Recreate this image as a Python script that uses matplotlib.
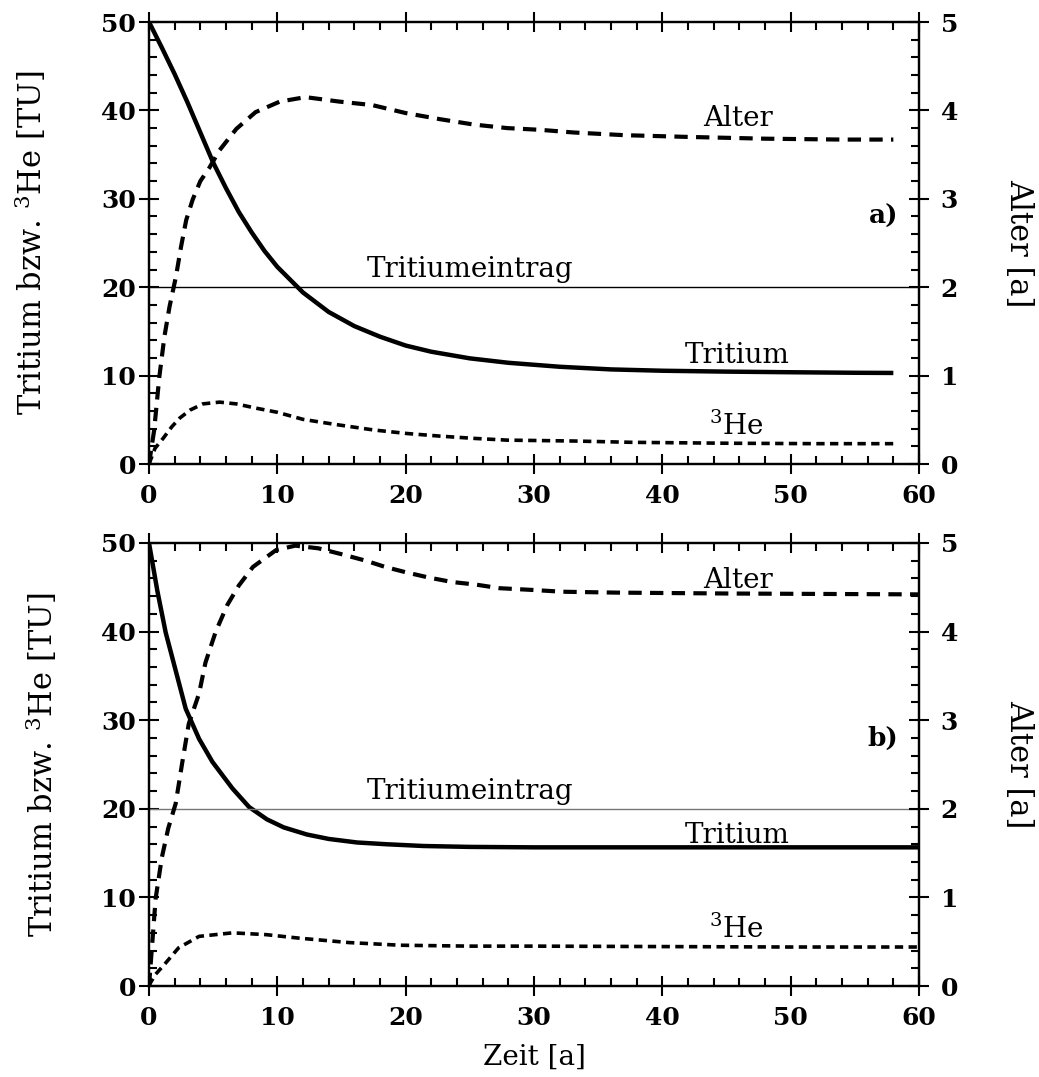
import numpy as np
import matplotlib
matplotlib.use("Agg")
import matplotlib.pyplot as plt
from matplotlib.ticker import MultipleLocator

plt.rcParams["font.family"] = ["DejaVu Serif"]
plt.rcParams["mathtext.fontset"] = "dejavuserif"

# ---------------------------------------------------------------
# data
# panel a)
t_trit_a = [0, 1, 2, 3, 4, 5, 6, 7, 8, 9, 10, 12, 14, 16, 18, 20, 22, 25, 28,
            32, 36, 40, 45, 50, 55, 58]
trit_a = [50, 47.1, 44.1, 40.9, 37.5, 34.1, 31.2, 28.5, 26.2, 24.1, 22.3, 19.4,
          17.2, 15.6, 14.4, 13.4, 12.7, 11.95, 11.45, 11.0, 10.7, 10.55, 10.45,
          10.38, 10.32, 10.3]
t_alter_a = [0, 0.4, 0.8, 1.2, 1.6, 2.1, 2.5, 2.9, 3.4, 4.0, 4.7, 5.5, 6.8, 8.3,
             10.2, 12.2, 14.8, 17.4, 20.0, 22.7, 25.3, 27.9, 30.5, 33.1, 37,
             42, 48, 54, 58]
alter_a = [0, 0.38, 0.98, 1.44, 1.78, 2.12, 2.46, 2.76, 2.99, 3.2, 3.35, 3.55,
           3.79, 3.98, 4.10, 4.15, 4.10, 4.06, 3.97, 3.90, 3.84, 3.80, 3.78,
           3.75, 3.72, 3.70, 3.68, 3.67, 3.67]
t_he_a = [0, 0.47, 1.1, 1.77, 2.4, 3.2, 4.2, 5.5, 6.8, 8.4, 10, 12, 14.4, 17.5,
          20.1, 22.7, 25.3, 27.9, 30.5, 33.1, 37.7, 45, 52, 58]
he_a = [0, 1.78, 2.9, 4.2, 5.2, 6.1, 6.8, 7.0, 6.8, 6.3, 5.85, 5.05, 4.5, 3.85,
        3.45, 3.15, 2.9, 2.7, 2.65, 2.6, 2.45, 2.35, 2.3, 2.3]

# panel b)
t_trit_b = [0, 0.65, 1.3, 2.08, 2.86, 3.9, 4.94, 6.5, 7.8, 9.2, 10.5, 12.3, 14,
            16.2, 18.5, 21.4, 25, 30, 40, 50, 60]
trit_b = [50, 44.6, 39.9, 35.6, 31.3, 27.9, 25.3, 22.3, 20.2, 18.8, 17.9, 17.1,
          16.6, 16.2, 16.0, 15.8, 15.7, 15.65, 15.65, 15.65, 15.65]
t_alter_b = [0, 0.52, 1.0, 1.5, 2.08, 2.6, 3.1, 3.9, 4.4, 5.2, 6.1, 7.0, 8.1,
             9.9, 11.4, 13.2, 15.1, 16.9, 18.4, 20, 21.8, 23.6, 25.5, 27.3,
             29.9, 32.2, 36.4, 45, 60]
alter_b = [0, 0.99, 1.45, 1.78, 2.06, 2.53, 2.96, 3.3, 3.65, 4.0, 4.3, 4.52,
           4.73, 4.92, 4.97, 4.94, 4.87, 4.8, 4.73, 4.67, 4.61, 4.56, 4.53,
           4.49, 4.47, 4.45, 4.44, 4.43, 4.42]
t_he_b = [0, 0.13, 0.5, 1.3, 2.3, 3.9, 6.5, 9.1, 11.7, 15.6, 19.6, 25, 30, 40,
          50, 60]
he_b = [0, 0.4, 1.3, 2.6, 4.3, 5.6, 6.0, 5.8, 5.4, 4.9, 4.6, 4.5, 4.5, 4.45,
        4.4, 4.4]

eintrag = 20   # Tritiumeintrag [TU]

ylabel_left = r"Tritium bzw. $^3$He [TU]"
ylabel_right = "Alter [a]"
xlabel = "Zeit [a]"

# label baselines (TU) per panel: Alter, Tritium, 3He
lab_a = [38.2, 11.4, 3.3]
lab_b = [44.9, 16.1, 5.4]

W, H = 1039, 1077
fig = plt.figure(figsize=(W / 100, H / 100), dpi=100)


def px(x0, y0, x1, y1):
    # pixel box -> figure fraction
    return [x0 / W, 1 - y1 / H, (x1 - x0) / W, (y1 - y0) / H]


def panel(box, t_tr, tr, t_al, al, t_he, he, tag, labs, eintrag_col, lab_x):
    ax = fig.add_axes(box)
    ax2 = ax.twinx()

    ax.plot(t_tr, tr, color="black", lw=3.2, solid_capstyle="butt")
    ax.plot(t_he, he, color="black", lw=2.6, linestyle=(0, (2.3, 1.5)))
    ax.axhline(eintrag, color=eintrag_col, lw=1.0)
    ax2.plot(t_al, al, color="black", lw=3.0, linestyle=(0, (3.2, 2.0)))

    ax.set_xlim(0, 60)
    ax.set_ylim(0, 50)
    ax2.set_ylim(0, 5)

    ax.xaxis.set_major_locator(MultipleLocator(10))
    ax.xaxis.set_minor_locator(MultipleLocator(2))
    ax.yaxis.set_major_locator(MultipleLocator(10))
    ax.yaxis.set_minor_locator(MultipleLocator(2))
    ax2.yaxis.set_major_locator(MultipleLocator(1))
    ax2.yaxis.set_minor_locator(MultipleLocator(0.2))

    for a in (ax, ax2):
        for s in a.spines.values():
            s.set_linewidth(1.6)
    ax.tick_params(which="major", direction="inout", length=15, width=1.5,
                   top=True, right=False, labelsize=18)
    ax.tick_params(which="minor", direction="in", length=6, width=1.5,
                   top=True, right=False)
    ax.tick_params(axis="x", pad=7)
    ax.tick_params(axis="y", pad=2)
    ax2.tick_params(which="major", direction="inout", length=15, width=1.5,
                    labelsize=18, pad=8)
    ax2.tick_params(which="minor", direction="in", length=6, width=1.5)
    for lab in ax.get_xticklabels() + ax.get_yticklabels() + ax2.get_yticklabels():
        lab.set_fontweight("bold")

    ax.text(45.9, labs[0], "Alter", ha="center", va="baseline", fontsize=20)
    ax.text(25, 21.1, "Tritiumeintrag", ha="center", va="baseline", fontsize=20)
    ax.text(45.8, labs[1], "Tritium", ha="center", va="baseline", fontsize=20)
    ax.text(45.8, labs[2], r"$^3$He", ha="center", va="baseline", fontsize=20)
    ax.text(58.4, 28, tag, ha="right", va="center", fontsize=19,
            fontweight="bold")

    yc = 1 - (box[1] + box[3] / 2)
    fig.text(lab_x / W, 1 - yc, ylabel_left, rotation=90, ha="center",
             va="center", fontsize=22)
    fig.text(1019 / W, 1 - yc, ylabel_right, rotation=270, ha="center",
             va="center", fontsize=22)
    return ax


panel(px(149, 22, 919, 464), t_trit_a, trit_a, t_alter_a, alter_a,
      t_he_a, he_a, "a)", lab_a, "black", 31)
axb = panel(px(149, 543, 919, 986), t_trit_b, trit_b, t_alter_b, alter_b,
            t_he_b, he_b, "b)", lab_b, "#777777", 42)
axb.set_xlabel(xlabel, fontsize=20, labelpad=10)

fig.savefig("out.png", dpi=100)
